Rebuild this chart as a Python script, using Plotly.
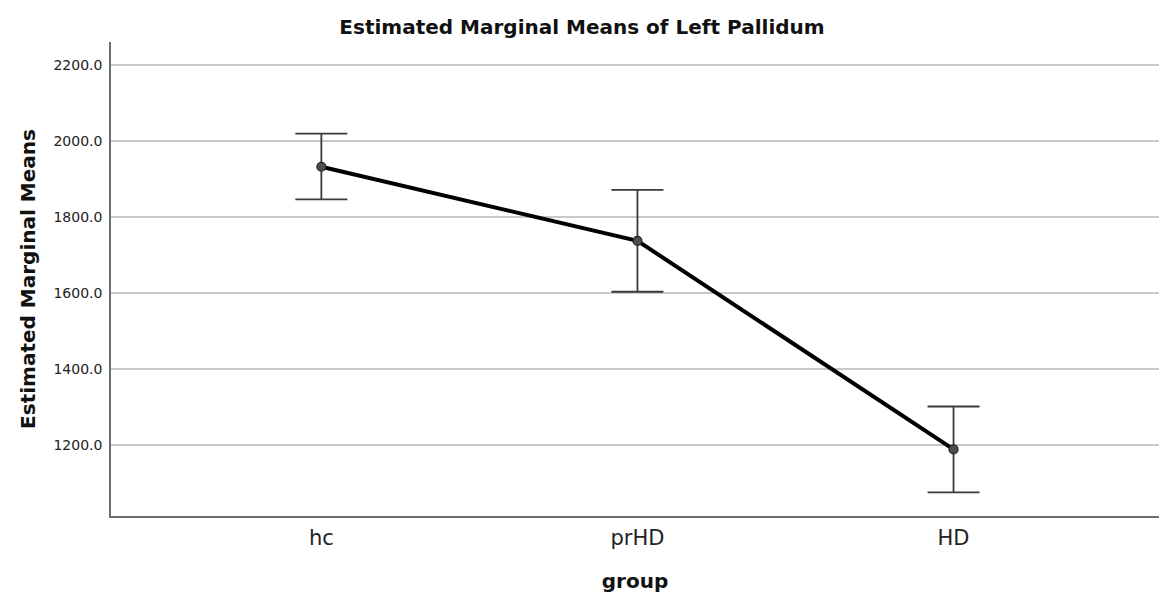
import plotly.graph_objects as go

# Estimated marginal means of left pallidum volume by group, with 95% CI
groups = ["hc", "prHD", "HD"]
means = [1933, 1738, 1189]
ci_upper = [2020, 1872, 1302]
ci_lower = [1847, 1604, 1076]

tick_vals = [1200, 1400, 1600, 1800, 2000, 2200]
tick_text = ["1200.0", "1400.0", "1600.0", "1800.0", "2000.0", "2200.0"]

err_plus = [u - m for u, m in zip(ci_upper, means)]
err_minus = [m - l for m, l in zip(means, ci_lower)]

FONT = "DejaVu Sans"

fig = go.Figure()

# Confidence interval bars
fig.add_trace(go.Scatter(
    x=groups, y=means,
    mode="markers",
    marker=dict(size=1, color="rgba(0,0,0,0)"),
    error_y=dict(type="data", symmetric=False, array=err_plus, arrayminus=err_minus,
                 color="#3a3a3a", thickness=1.8, width=26),
    hoverinfo="skip", showlegend=False,
))

# Mean line with markers
fig.add_trace(go.Scatter(
    x=groups, y=means,
    mode="lines+markers",
    line=dict(color="#000000", width=4),
    marker=dict(size=9, color="#4d4d4d", line=dict(color="#222222", width=1.2)),
    showlegend=False,
))

fig.update_layout(
    width=1160, height=594,
    margin=dict(l=111, r=1, t=42, b=78),
    paper_bgcolor="white",
    plot_bgcolor="white",
    title=dict(text="<b>Estimated Marginal Means of Left Pallidum</b>",
               x=582 / 1160, xref="container", xanchor="center",
               y=1 - 27 / 594, yref="container", yanchor="middle",
               font=dict(family=FONT, size=20, color="#111111")),
    font=dict(family=FONT, color="#222222"),
)

fig.update_xaxes(
    type="category",
    range=[-0.6655, 2.65],
    showgrid=False,
    showline=True, linecolor="#6e6e6e", linewidth=1.5,
    ticks="outside", ticklen=2, tickcolor="rgba(0,0,0,0)",
    tickfont=dict(family=FONT, size=21, color="#222222"),
    title=dict(text="<b>group</b>", font=dict(family=FONT, size=20, color="#111111"), standoff=25),
    zeroline=False,
)
fig.update_yaxes(
    range=[1013.7, 2261.4],
    tickvals=tick_vals, ticktext=tick_text,
    showgrid=True, gridcolor="#c8c8c8", gridwidth=1.5,
    showline=True, linecolor="#6e6e6e", linewidth=1.5,
    ticks="outside", ticklen=4, tickcolor="rgba(0,0,0,0)",
    tickfont=dict(family=FONT, size=14, color="#222222"),
    title=dict(text="<b>Estimated Marginal Means</b>", font=dict(family=FONT, size=20, color="#111111"), standoff=12),
    zeroline=False,
)

fig.write_html("out.html")
